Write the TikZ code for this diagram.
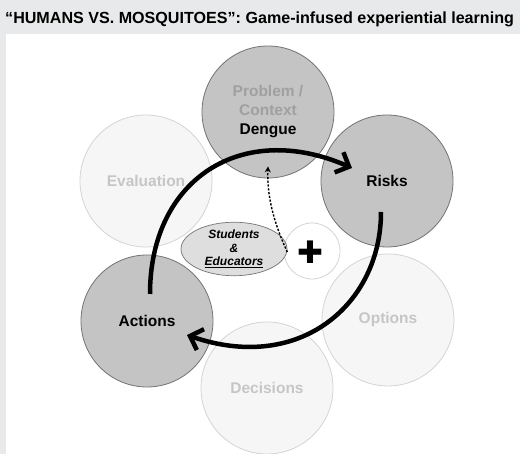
\documentclass[tikz,border=0pt]{standalone}
\usepackage{fontspec}
\setmainfont{Liberation Sans}
\newfontfamily\symfont{DejaVu Sans}
\usetikzlibrary{arrows.meta,shapes.geometric,calc}
\definecolor{HVMbg}{RGB}{232,233,234}
\definecolor{HVMdark}{RGB}{196,196,196}
\definecolor{HVMdarkline}{RGB}{115,115,115}
\definecolor{HVMlight}{RGB}{246,246,246}
\definecolor{HVMlightline}{RGB}{212,212,212}
\definecolor{HVMlighttext}{RGB}{198,198,198}
\definecolor{HVMmidtext}{RGB}{160,160,160}
\definecolor{HVMgroup}{RGB}{222,222,222}
\tikzset{
  hvm stage/.style={
    circle,
    minimum size=132pt,
    inner sep=0pt,
    line width=0.8pt,
    align=center,
    font=\fontsize{15.5}{19}\selectfont\bfseries
  },
  hvm active/.style={hvm stage,draw=HVMdarkline,fill=HVMdark,text=black},
  hvm faded/.style={hvm stage,draw=HVMlightline,fill=HVMlight,text=HVMlighttext},
  hvm group/.style={
    ellipse,
    draw=HVMdarkline,
    line width=0.7pt,
    fill=HVMgroup,
    minimum width=106pt,
    minimum height=43pt,
    inner sep=0pt,
    align=center,
    font=\fontsize{12}{13.5}\selectfont\bfseries\itshape
  },
  hvm badge/.style={
    circle,
    draw=HVMlightline,
    line width=0.8pt,
    fill=white,
    minimum size=56pt,
    inner sep=0pt
  },
  hvm cycle/.style={-{Straight Barb[length=11pt,width=22pt]},line width=4.5pt},
  hvm hint/.style={-{Stealth[length=6pt,width=6pt]},line width=1.4pt,dash pattern=on 2.2pt off 1.6pt}
}
\begin{document}
\begin{tikzpicture}[x=1pt,y=1pt]
  \useasboundingbox (0,0) rectangle (520,454);
  \fill[HVMbg] (0,0) rectangle (520,454);
  \fill[white] (6,0) rectangle (520,420);

  \node[anchor=base west,font=\fontsize{16.1}{19}\selectfont\bfseries,inner xsep=0pt] (title) at (5,430)
    {“HUMANS VS. MOSQUITOES”: Game-infused experiential learning};

  % outer ring of stages
  \node[hvm faded] (evaluation) at (146,273) {Evaluation};
  \node[hvm faded] (options) at (388,134) {Options};
  \node[hvm faded] (decisions) at (267,66) {Decisions};
  \node[hvm active] (problem) at (268,342) {
    \textcolor{HVMmidtext}{Problem /}\\
    \textcolor{HVMmidtext}{Context}\\
    Dengue
  };
  \node[hvm active] (risks) at (387,273) {Risks};
  \node[hvm active] (actions) at (147,133) {Actions};

  % centre
  \node[hvm badge] (badge) at (312,203) {};
  \node[font=\symfont\fontsize{31}{31}\selectfont] (cross) at (310.5,202) {✚};
  \node[hvm group] (learners) at (234,205) {Students\\\&\\\underline{Educators}};

  \coordinate (act-out) at ($(actions)+(3,27)$);
  \coordinate (risk-in) at ($(risks)+(-35,13)$);
  \coordinate (risk-out) at ($(risks)+(-6,-31)$);
  \coordinate (act-in) at ($(actions)+(40,-14)$);
  \coordinate (hint-tip) at ($(problem.south)+(0,12)$);

  \draw[hvm cycle] (act-out) .. controls +(0,115) and +(-110,48) .. (risk-in);
  \draw[hvm cycle] (risk-out) .. controls +(0,-92) and +(113,-39) .. (act-in);
  \draw[hvm hint] ($(learners.east)+(0,-3)$) .. controls +(-15,32) and +(-1,-27) .. (hint-tip);
\end{tikzpicture}
\end{document}
